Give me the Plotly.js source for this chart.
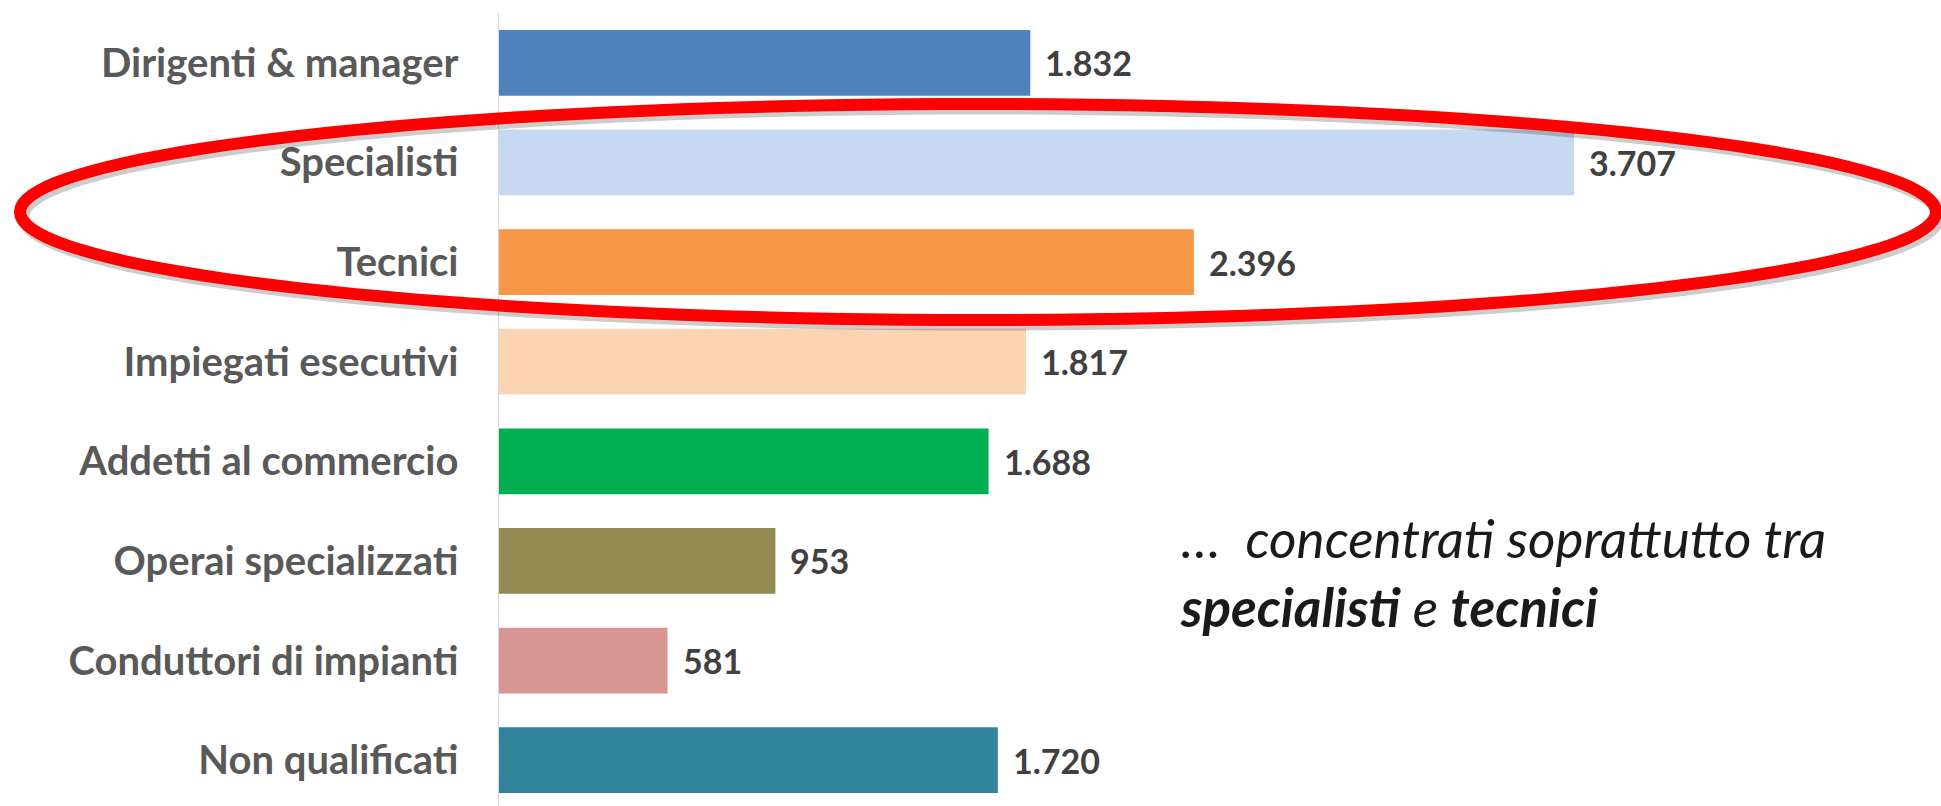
<!DOCTYPE html>
<html><head><meta charset="utf-8">
<script src="https://cdn.plot.ly/plotly-3.0.1.min.js"></script>
<style>html,body{margin:0;padding:0;background:#fff}#chart{width:1941px;height:806px}</style>
</head><body><div id="chart"></div>
<script>
const categories = ["Dirigenti & manager", "Specialisti", "Tecnici", "Impiegati esecutivi",
  "Addetti al commercio", "Operai specializzati", "Conduttori di impianti", "Non qualificati"];
const values = [1832, 3707, 2396, 1817, 1688, 953, 581, 1720];
const barColors = ["#4F81BD", "#C6D9F0", "#F79646", "#FBD4B4", "#00B050", "#938953", "#D99594", "#31849B"];
const noteText = "<i>…  concentrati soprattutto tra</i><br><b><i>specialisti</i></b><i> e </i><b><i>tecnici</i></b>";

function fmt(v) { return String(v).replace(/\B(?=(\d{3})+(?!\d))/g, "."); }

// plot geometry (pixels) used to place the highlight ellipse in paper coords
const W = 1941, H = 806, ML = 499, MT = 13, MR = 0, MB = 0;
const PW = W - ML - MR, PH = H - MT - MB;
function toPaper(px, py) { return [(px - ML) / PW, 1 - (py - MT) / PH]; }
function ellipsePath(cx, cy, a, b, rotDeg) {
  const phi = rotDeg * Math.PI / 180;
  let d = "";
  for (let i = 0; i <= 160; i++) {
    const t = i / 160 * 2 * Math.PI;
    const px = cx + a * Math.cos(t) * Math.cos(phi) - b * Math.sin(t) * Math.sin(phi);
    const py = cy + a * Math.cos(t) * Math.sin(phi) + b * Math.sin(t) * Math.cos(phi);
    const p = toPaper(px, py);
    d += (i === 0 ? "M" : "L") + p[0].toFixed(5) + "," + p[1].toFixed(5);
  }
  return d + "Z";
}

const trace = {
  type: "bar", orientation: "h",
  y: categories, x: values,
  marker: { color: barColors, line: { width: 0 } },
  hoverinfo: "x+y"
};

const valueAnnotations = categories.map((c, i) => ({
  x: values[i], y: c, xref: "x", yref: "y",
  text: fmt(values[i]), showarrow: false,
  xanchor: "left", yanchor: "middle", xshift: 13,
  font: { family: "Lato, 'Open Sans', sans-serif", size: 34, color: "#404040", weight: "bold" }
}));

const notePos = toPaper(1178, 572);
const noteAnnotation = {
  xref: "paper", yref: "paper", x: notePos[0], y: notePos[1],
  text: noteText, showarrow: false, align: "left",
  xanchor: "left", yanchor: "middle",
  font: { family: "Lato, 'Open Sans', sans-serif", size: 53, color: "#1a1a1a" }
};

const layout = {
  width: W, height: H,
  margin: { l: ML, r: MR, t: MT, b: MB, pad: 0 },
  paper_bgcolor: "#ffffff", plot_bgcolor: "#ffffff",
  showlegend: false,
  bargap: 0.34,
  xaxis: { range: [0, 4972], showticklabels: false, showgrid: false, zeroline: false, showline: false, fixedrange: true },
  yaxis: {
    type: "category", range: [7.46, -0.5],
    showline: true, linecolor: "#d9d9d9", linewidth: 1.5,
    showgrid: false, zeroline: false, ticks: "",
    ticklabelstandoff: 31,
    tickfont: { family: "Lato, 'Open Sans', sans-serif", size: 40, color: "#595959", weight: "bold" }
  },
  annotations: valueAnnotations.concat([noteAnnotation]),
  shapes: [
    { type: "path", xref: "paper", yref: "paper", layer: "above",
      path: ellipsePath(981, 216, 958, 108, 0),
      line: { color: "rgba(0,0,0,0.2)", width: 13 } },
    { type: "path", xref: "paper", yref: "paper", layer: "above",
      path: ellipsePath(978, 212, 958, 108, 0),
      line: { color: "#ff0000", width: 12 } }
  ]
};

Plotly.newPlot("chart", [trace], layout, { displayModeBar: false, staticPlot: true });
</script>
</body></html>
